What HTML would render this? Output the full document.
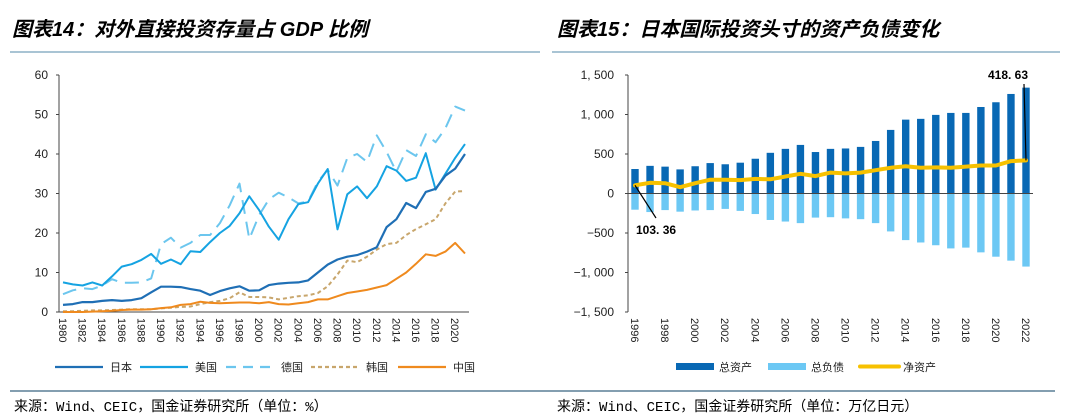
<!DOCTYPE html>
<html><head><meta charset="utf-8"><style>
body{margin:0;width:1080px;height:419px;background:#fff;overflow:hidden;font-family:"Liberation Sans","Noto Sans CJK SC",sans-serif}
svg{position:absolute;left:0;top:0}
</style></head><body>
<svg id="s" width="1080" height="419">
<text x="12" y="36" font-size="20" font-weight="bold" font-style="italic" font-family="'Liberation Sans','Noto Sans CJK SC',sans-serif">图表14：对外直接投资存量占 GDP 比例</text>
<text x="557" y="36" font-size="20" font-weight="bold" font-style="italic" font-family="'Liberation Sans','Noto Sans CJK SC',sans-serif">图表15：日本国际投资头寸的资产负债变化</text>
<line x1="10" y1="52" x2="540" y2="52" stroke="#a9c4d4" stroke-width="2"/>
<line x1="552" y1="52" x2="1060" y2="52" stroke="#a9c4d4" stroke-width="2"/>
<line x1="10" y1="391" x2="540" y2="391" stroke="#5a7f95" stroke-width="1.5"/>
<line x1="540" y1="391" x2="1055" y2="391" stroke="#5a7f95" stroke-width="1.5"/>
<text x="14" y="411" font-size="14" font-family="'Liberation Mono','Noto Sans CJK SC',monospace">来源：Wind、CEIC，国金证券研究所（单位：%）</text>
<text x="557" y="411" font-size="14" font-family="'Liberation Mono','Noto Sans CJK SC',monospace">来源：Wind、CEIC，国金证券研究所（单位：万亿日元）</text>
<g id="L"></g><g id="R"></g>
</svg>
<script>
const years=[];for(let y=1980;y<=2021;y++)years.push(y);
const japan=[1.8,2,2.5,2.5,2.8,3,2.8,3,3.5,5,6.4,6.4,6.3,5.8,5.4,4.3,5.3,6,6.5,5.4,5.5,6.8,7.2,7.4,7.5,8,10,12,13.3,14,14.4,15.3,16.4,21.5,23.5,27.6,26.3,30.4,31.2,34.5,36.3,40];
const usa=[7.5,7,6.7,7.5,6.7,9,11.5,12.1,13.2,14.7,12.2,13.3,12.1,15.4,15.2,17.7,20,21.8,25,29.3,25.8,21.6,18.3,23.5,27.3,27.8,32.5,36.2,20.9,29.8,31.8,28.8,31.8,36.9,35.8,33.2,34,40.2,31,35,39,42.5];
const germany=[4.5,5.5,6,5.8,6.7,8.3,7.4,7.4,7.5,8.5,17.2,18.8,16.3,17.5,19.5,19.5,22.5,27,32.5,18.5,24.5,28.5,30.2,29,27.5,28,33,36,32,39,40,38,44.7,40.5,35.5,41,39.5,45,43,46.5,52,51];
const korea=[0.2,0.2,0.3,0.4,0.4,0.5,0.6,0.7,0.7,0.7,0.9,1.1,1.3,1.4,2,2.5,2.8,3.5,5,3.8,3.8,3.7,3.2,3.6,4,4.2,4.8,6.5,9.5,13,12.6,14,15.8,17.2,17.5,19.5,21,22.2,23.5,27.5,30.5,30.6];
const china=[0,0,0,0.1,0.2,0.3,0.5,0.6,0.6,0.7,1,1.2,1.8,2,2.6,2.3,2.2,2.3,2.4,2.4,2.2,2.5,2,1.9,2.2,2.5,3.2,3.2,4,4.8,5.2,5.6,6.2,6.8,8.4,10,12.2,14.6,14.2,15.3,17.5,14.8];
const leftTicks=[0,10,20,30,40,50,60];
const rYears=[];for(let y=1996;y<=2022;y++)rYears.push(y);
const assets=[310,350,340,305,345,385,370,390,440,515,565,615,525,565,570,590,665,805,935,945,995,1020,1020,1095,1155,1260,1340];
const liabilities=[-205,-235,-210,-230,-215,-210,-195,-220,-260,-335,-355,-375,-305,-300,-315,-325,-375,-480,-590,-620,-655,-695,-685,-745,-800,-850,-925];
const netAssets=[103.36,135,130,80,130,175,175,170,185,180,215,250,220,265,255,265,295,325,345,325,330,325,340,355,355,410,418.63];
const rightTicks=[-1500,-1000,-500,0,500,1000,1500];
const NS="http://www.w3.org/2000/svg";
function mk(p,t,a,txt){const e=document.createElementNS(NS,t);for(const k in a)e.setAttribute(k,a[k]);if(txt!==undefined)e.textContent=txt;p.appendChild(e);return e;}
const fontS="'Liberation Sans','Noto Sans CJK SC',sans-serif";
// LEFT
const L=document.getElementById('L');
const lx=i=>63+i*(465-63)/41, ly=v=>312-v*(312-75)/60;
let e=mk(L,'line',{x1:59,y1:75,x2:59,y2:312,stroke:'#444'});

e=mk(L,'line',{x1:59,y1:312,x2:469,y2:312,stroke:'#444'});

leftTicks.forEach(t=>{mk(L,'line',{x1:56,y1:ly(t),x2:59,y2:ly(t),stroke:'#444'});
e=mk(L,'text',{x:48,y:ly(t)+4,'font-size':12,'text-anchor':'end','font-family':fontS,fill:'#222'},t);
});
years.forEach((y,i)=>{if(i%2)return;const x=lx(i);
e=mk(L,'text',{x:0,y:0,'font-size':11,'font-family':fontS,fill:'#222',transform:`translate(${x-4},318) rotate(90)`},y);
});
function series(p,data,color,dash,w,name){const d=data.map((v,i)=>(i?'L':'M')+lx(i).toFixed(1)+','+ly(v).toFixed(1)).join('');
const a={d:d,fill:'none',stroke:color,'stroke-width':w,'stroke-linejoin':'round'};if(dash)a['stroke-dasharray']=dash;
const el=mk(p,'path',a);}
series(L,korea,'#c8a66c','4,3',2,'korea-line');
series(L,china,'#ef8a1e',null,2,'china-line');
series(L,germany,'#6cc6ee','14,8',2,'germany-line');
series(L,usa,'#15a3e2',null,2,'usa-line');
series(L,japan,'#1f6fb5',null,2.2,'japan-line');
const leg=[['日本','#1f6fb5',null,55],['美国','#15a3e2',null,140],['德国','#6cc6ee','10,7',226],['韩国','#c8a66c','4,3',311],['中国','#ef8a1e',null,398]];
leg.forEach(([n,c,d,x])=>{const a={x1:x,y1:367,x2:x+48,y2:367,stroke:c,'stroke-width':2.2};if(d)a['stroke-dasharray']=d;mk(L,'line',a);
e=mk(L,'text',{x:x+55,y:371,'font-size':11,'font-family':fontS,fill:'#222'},n);
});
// RIGHT
const R=document.getElementById('R');
const rx=i=>635+i*(1026-635)/26, ry=v=>193.5-v*(312-75)/3000;
e=mk(R,'line',{x1:628,y1:75,x2:628,y2:312,stroke:'#444'});

rightTicks.forEach(t=>{mk(R,'line',{x1:625,y1:ry(t),x2:628,y2:ry(t),stroke:'#444'});
e=mk(R,'text',{x:614,y:ry(t)+4,'font-size':12,'text-anchor':'end','font-family':fontS,fill:'#222'},t.toLocaleString('en-US').replace(',',', ').replace('-','−'));
});
rYears.forEach((y,i)=>{if(i%2)return;
e=mk(R,'text',{x:0,y:0,'font-size':11,'font-family':fontS,fill:'#222',transform:`translate(${rx(i)-4},318) rotate(90)`},y);
});
assets.forEach((v,i)=>{e=mk(R,'rect',{x:rx(i)-3.7,y:ry(v),width:7.4,height:ry(0)-ry(v),fill:'#0868b4'});
});
liabilities.forEach((v,i)=>{e=mk(R,'rect',{x:rx(i)-3.7,y:ry(0),width:7.4,height:ry(v)-ry(0),fill:'#6cc8f4'});
});
e=mk(R,'line',{x1:628,y1:ry(0),x2:1033,y2:ry(0),stroke:'#444'});

e=mk(R,'path',{d:netAssets.map((v,i)=>(i?'L':'M')+rx(i).toFixed(1)+','+ry(v).toFixed(1)).join(''),fill:'none',stroke:'#f7c100','stroke-width':4,'stroke-linejoin':'round','stroke-linecap':'round'});

const n0=netAssets[0],nN=netAssets[netAssets.length-1];
mk(R,'line',{x1:rx(0),y1:ry(n0),x2:656,y2:218,stroke:'#000','stroke-width':1.2});
e=mk(R,'text',{x:636,y:234,'font-size':12,'font-weight':'bold','font-family':fontS},n0.toFixed(2).replace('.','. '));

mk(R,'line',{x1:rx(26),y1:ry(nN),x2:1024,y2:84,stroke:'#000','stroke-width':1.2});
e=mk(R,'text',{x:1008,y:79,'font-size':12,'font-weight':'bold','font-family':fontS,'text-anchor':'middle'},nN.toFixed(2).replace('.','. '));

[['总资产',676,'#0868b4','rect'],['总负债',768,'#6cc8f4','rect'],['净资产',860,'#f7c100','line']].forEach(([n,x,c,k])=>{
if(k==='rect')mk(R,'rect',{x:x,y:363,width:38,height:7,fill:c});else mk(R,'line',{x1:x,y1:366.5,x2:x+39,y2:366.5,stroke:c,'stroke-width':4,'stroke-linecap':'round'});
e=mk(R,'text',{x:x+43,y:371,'font-size':11,'font-family':fontS,fill:'#222'},n);
});
</script>
</body></html>
